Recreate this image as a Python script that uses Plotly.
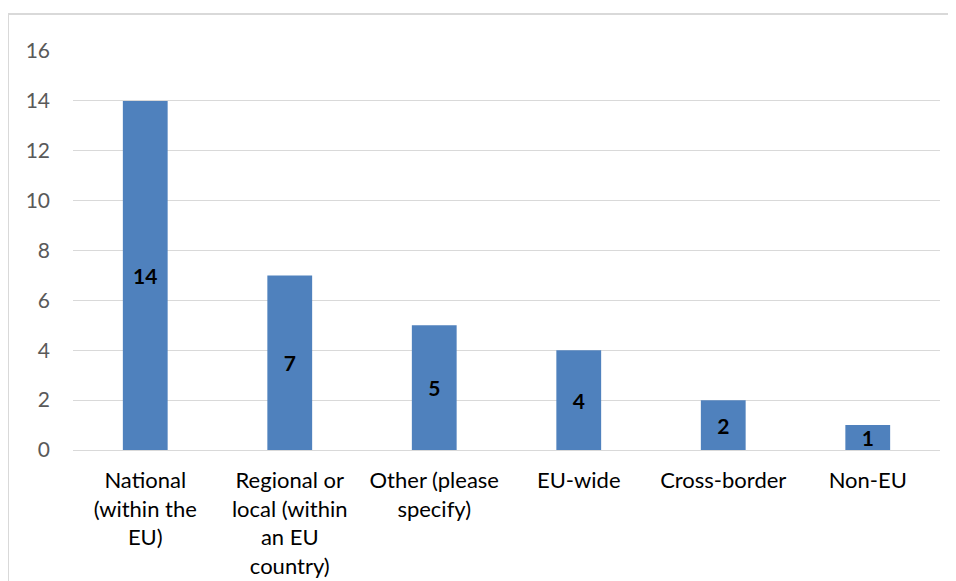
import plotly.graph_objects as go

categories = [
    "National<br>(within the<br>EU)",
    "Regional or<br>local (within<br>an EU<br>country)",
    "Other (please<br>specify)",
    "EU-wide",
    "Cross-border",
    "Non-EU",
]
values = [14, 7, 5, 4, 2, 1]
y_ticks = [0, 2, 4, 6, 8, 10, 12, 14, 16]

FONT = "Lato, Open Sans, sans-serif"

fig = go.Figure(
    go.Bar(
        x=categories,
        y=values,
        marker=dict(color="#4F81BD", line=dict(width=0)),
        text=[str(v) for v in values],
        textposition="inside",
        insidetextanchor="middle",
        constraintext="none",
        textangle=0,
        textfont=dict(family=FONT, size=21, color="#000000", weight="bold"),
        hoverinfo="skip",
    )
)

fig.update_layout(
    width=948,
    height=573,
    margin=dict(l=65, r=16, t=43, b=131, autoexpand=False),
    paper_bgcolor="white",
    plot_bgcolor="white",
    bargap=0.69,
    showlegend=False,
    font=dict(family=FONT, size=21, color="#404040"),
    shapes=[
        dict(
            type="rect", xref="paper", yref="paper",
            x0=-0.075, x1=1.03, y0=-0.36, y1=1.0927,
            line=dict(color="#d9d9d9", width=2), fillcolor="rgba(0,0,0,0)",
            layer="below",
        )
    ],
)

fig.update_xaxes(
    showgrid=False,
    showline=False,
    ticks="",
    automargin=False,
    tickfont=dict(family=FONT, size=22, color="#000000"),
    ticklabelstandoff=15,
    tickangle=0,
)
fig.update_yaxes(
    range=[0, 16],
    tickvals=y_ticks,
    showgrid=True,
    gridcolor="#d9d9d9",
    gridwidth=1,
    zeroline=True,
    zerolinecolor="#d9d9d9",
    zerolinewidth=1,
    showline=False,
    ticks="",
    automargin=False,
    tickfont=dict(family=FONT, size=21, color="#595959"),
    ticklabelstandoff=22,
)

fig.write_html("out.html")
